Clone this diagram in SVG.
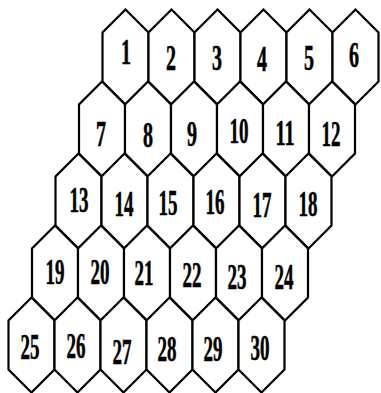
<svg xmlns="http://www.w3.org/2000/svg" xmlns:xlink="http://www.w3.org/1999/xlink" width="381" height="393" viewBox="0 0 381 393">
<defs>
<style>
.hex{fill:#fff;stroke:#000;stroke-width:2.2;stroke-linejoin:miter}
.lb{font-family:"Liberation Serif","Times New Roman",serif;font-weight:bold;font-size:35px;fill:#000;stroke:#000;stroke-width:0.6;text-anchor:middle}
</style>
<path id="h" d="M23,0 L46,23 L46,72 L23,95 L0,72 L0,23 Z"/>
</defs>
<rect width="381" height="393" fill="#fff"/>
<g id="connectors"/>
<g id="n1"><use xlink:href="#h" class="hex" x="102.5" y="9.5"/><text class="lb" x="126" y="64" textLength="10" lengthAdjust="spacingAndGlyphs">1</text></g>
<g id="n2"><use xlink:href="#h" class="hex" x="148.5" y="9.5"/><text class="lb" x="171" y="70" textLength="10" lengthAdjust="spacingAndGlyphs">2</text></g>
<g id="n3"><use xlink:href="#h" class="hex" x="194.5" y="9.5"/><text class="lb" x="217" y="70" textLength="10" lengthAdjust="spacingAndGlyphs">3</text></g>
<g id="n4"><use xlink:href="#h" class="hex" x="240.5" y="9.5"/><text class="lb" x="262" y="71" textLength="10" lengthAdjust="spacingAndGlyphs">4</text></g>
<g id="n5"><use xlink:href="#h" class="hex" x="286.5" y="9.5"/><text class="lb" x="309" y="70" textLength="10" lengthAdjust="spacingAndGlyphs">5</text></g>
<g id="n6"><use xlink:href="#h" class="hex" x="332.5" y="9.5"/><text class="lb" x="354" y="67" textLength="10" lengthAdjust="spacingAndGlyphs">6</text></g>
<g id="n7"><use xlink:href="#h" class="hex" x="79" y="81.5"/><text class="lb" x="101" y="146" textLength="10" lengthAdjust="spacingAndGlyphs">7</text></g>
<g id="n8"><use xlink:href="#h" class="hex" x="125" y="81.5"/><text class="lb" x="148" y="147" textLength="10" lengthAdjust="spacingAndGlyphs">8</text></g>
<g id="n9"><use xlink:href="#h" class="hex" x="171" y="81.5"/><text class="lb" x="192" y="146" textLength="10" lengthAdjust="spacingAndGlyphs">9</text></g>
<g id="n10"><use xlink:href="#h" class="hex" x="217" y="81.5"/><text class="lb" x="239" y="143" textLength="19" lengthAdjust="spacingAndGlyphs">10</text></g>
<g id="n11"><use xlink:href="#h" class="hex" x="263" y="81.5"/><text class="lb" x="285" y="145" textLength="19" lengthAdjust="spacingAndGlyphs">11</text></g>
<g id="n12"><use xlink:href="#h" class="hex" x="309" y="81.5"/><text class="lb" x="331" y="146" textLength="19" lengthAdjust="spacingAndGlyphs">12</text></g>
<g id="n13"><use xlink:href="#h" class="hex" x="55.5" y="153.5"/><text class="lb" x="79" y="212" textLength="19" lengthAdjust="spacingAndGlyphs">13</text></g>
<g id="n14"><use xlink:href="#h" class="hex" x="101.5" y="153.5"/><text class="lb" x="124" y="216" textLength="19" lengthAdjust="spacingAndGlyphs">14</text></g>
<g id="n15"><use xlink:href="#h" class="hex" x="147.5" y="153.5"/><text class="lb" x="168" y="215" textLength="19" lengthAdjust="spacingAndGlyphs">15</text></g>
<g id="n16"><use xlink:href="#h" class="hex" x="193.5" y="153.5"/><text class="lb" x="215" y="214" textLength="19" lengthAdjust="spacingAndGlyphs">16</text></g>
<g id="n17"><use xlink:href="#h" class="hex" x="239.5" y="153.5"/><text class="lb" x="262" y="217" textLength="19" lengthAdjust="spacingAndGlyphs">17</text></g>
<g id="n18"><use xlink:href="#h" class="hex" x="285.5" y="153.5"/><text class="lb" x="308" y="216" textLength="19" lengthAdjust="spacingAndGlyphs">18</text></g>
<g id="n19"><use xlink:href="#h" class="hex" x="32" y="225.5"/><text class="lb" x="55" y="284" textLength="19" lengthAdjust="spacingAndGlyphs">19</text></g>
<g id="n20"><use xlink:href="#h" class="hex" x="78" y="225.5"/><text class="lb" x="100" y="284" textLength="19" lengthAdjust="spacingAndGlyphs">20</text></g>
<g id="n21"><use xlink:href="#h" class="hex" x="124" y="225.5"/><text class="lb" x="144" y="285" textLength="19" lengthAdjust="spacingAndGlyphs">21</text></g>
<g id="n22"><use xlink:href="#h" class="hex" x="170" y="225.5"/><text class="lb" x="192" y="287" textLength="19" lengthAdjust="spacingAndGlyphs">22</text></g>
<g id="n23"><use xlink:href="#h" class="hex" x="216" y="225.5"/><text class="lb" x="237" y="289" textLength="19" lengthAdjust="spacingAndGlyphs">23</text></g>
<g id="n24"><use xlink:href="#h" class="hex" x="262" y="225.5"/><text class="lb" x="284" y="289" textLength="19" lengthAdjust="spacingAndGlyphs">24</text></g>
<g id="n25"><use xlink:href="#h" class="hex" x="8.5" y="297.5"/><text class="lb" x="30" y="359" textLength="19" lengthAdjust="spacingAndGlyphs">25</text></g>
<g id="n26"><use xlink:href="#h" class="hex" x="54.5" y="297.5"/><text class="lb" x="76" y="358" textLength="19" lengthAdjust="spacingAndGlyphs">26</text></g>
<g id="n27"><use xlink:href="#h" class="hex" x="100.5" y="297.5"/><text class="lb" x="122" y="364" textLength="19" lengthAdjust="spacingAndGlyphs">27</text></g>
<g id="n28"><use xlink:href="#h" class="hex" x="146.5" y="297.5"/><text class="lb" x="167" y="361" textLength="19" lengthAdjust="spacingAndGlyphs">28</text></g>
<g id="n29"><use xlink:href="#h" class="hex" x="192.5" y="297.5"/><text class="lb" x="213" y="361" textLength="19" lengthAdjust="spacingAndGlyphs">29</text></g>
<g id="n30"><use xlink:href="#h" class="hex" x="238.5" y="297.5"/><text class="lb" x="260" y="360" textLength="19" lengthAdjust="spacingAndGlyphs">30</text></g>
</svg>
